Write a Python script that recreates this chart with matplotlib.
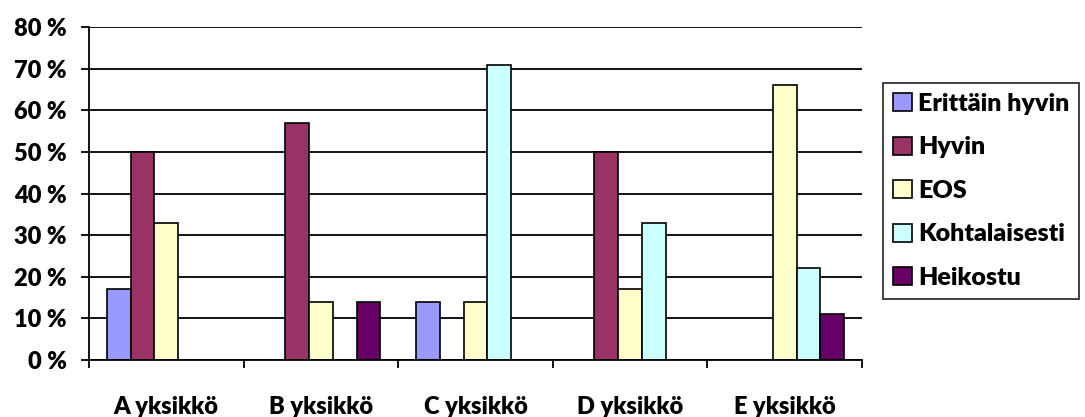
import numpy as np
import matplotlib
matplotlib.use("Agg")
import matplotlib.pyplot as plt
import matplotlib.ticker as mticker

categories = ["A yksikkö", "B yksikkö", "C yksikkö", "D yksikkö", "E yksikkö"]
series_names = ["Erittäin hyvin", "Hyvin", "EOS", "Kohtalaisesti", "Heikostu"]
erittain_hyvin = [17, 0, 14, 0, 0]
hyvin = [50, 57, 0, 50, 0]
eos = [33, 14, 14, 17, 66]
kohtalaisesti = [0, 0, 71, 33, 22]
heikostu = [0, 14, 0, 0, 11]
y_ticks = [0, 10, 20, 30, 40, 50, 60, 70, 80]

colors = ["#9999FF", "#993366", "#FFFFCC", "#CCFFFF", "#660066"]

plt.rcParams['font.family'] = ['Lato', 'DejaVu Sans']
plt.rcParams['font.weight'] = 'heavy'

fig = plt.figure(figsize=(10.85, 4.17), dpi=100)
ax = fig.add_axes([0.082, 0.1367, 0.7125, 0.7983])

values = [erittain_hyvin, hyvin, eos, kohtalaisesti, heikostu]
n = len(series_names)
gap = 1.5
bar_w = 1.0 / (n + gap)
x = np.arange(len(categories))

# clustered bars, 150 % gap between groups; zero values are left empty
for i, (name, vals) in enumerate(zip(series_names, values)):
    offs = -0.5 + bar_w * gap / 2 + bar_w * i + bar_w / 2
    heights = [v if v > 0 else np.nan for v in vals]
    ax.bar(x + offs, heights, width=bar_w, color=colors[i], edgecolor="black",
           linewidth=1.2, label=name, zorder=3)

ax.set_xlim(-0.5, len(categories) - 0.5)
ax.set_ylim(0, 80)
ax.set_yticks(y_ticks)
ax.yaxis.set_major_formatter(mticker.FuncFormatter(lambda v, _: f"{v:.0f} %"))
ax.yaxis.grid(True, color="black", linewidth=1.3, zorder=0)

ax.set_xticks(x)
ax.set_xticklabels(categories)
ax.xaxis.set_minor_locator(mticker.FixedLocator(np.arange(-0.5, len(categories), 1.0)))
ax.tick_params(axis="x", which="major", length=0, pad=26, labelsize=17)
ax.tick_params(axis="x", which="minor", length=6, width=1.3, direction="out")
ax.tick_params(axis="y", length=6, width=1.3, direction="out", labelsize=17, pad=10)

for s in ["top", "right"]:
    ax.spines[s].set_visible(False)
for s in ["left", "bottom"]:
    ax.spines[s].set_linewidth(1.3)
    ax.spines[s].set_zorder(4)

leg = fig.legend(loc="upper left", bbox_to_anchor=(0.8138, 0.801), frameon=True,
                 fancybox=False, edgecolor="black", fontsize=18,
                 handlelength=0.75, handleheight=0.75, handletextpad=0.25,
                 labelspacing=0.86, borderpad=0.4, borderaxespad=0)
leg.get_frame().set_linewidth(1.3)

fig.savefig("out.png", dpi=100)
